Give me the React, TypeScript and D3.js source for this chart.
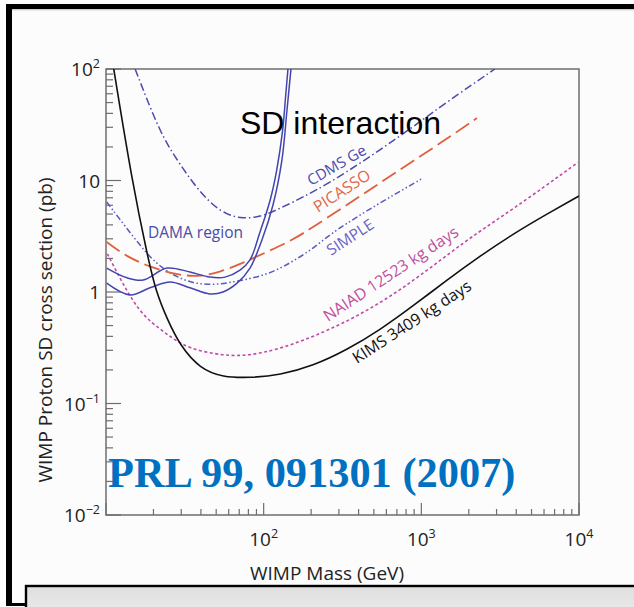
import React from 'react';
import * as d3 from 'd3';

// ---- data: [WIMP mass (GeV), SD cross section (pb)] ----
const KIMS: [number, number][] = [
  [11.2, 100], [14.6, 10], [18.5, 1.97], [20.8, 1.0], [24.4, 0.574], [29.5, 0.33],
  [39.5, 0.205], [55, 0.172], [82, 0.17], [127, 0.18], [205, 0.217], [337, 0.302],
  [546, 0.456], [885, 0.748], [1452, 1.28], [2354, 2.1], [3810, 3.31], [6250, 5.0], [10000, 7.26],
];
const NAIAD: [number, number][] = [
  [10.2, 2.2], [13.6, 1.0], [17.2, 0.61], [22, 0.467], [26.6, 0.38], [34.1, 0.31],
  [50.6, 0.275], [70.8, 0.265], [99, 0.285], [147, 0.33], [305, 0.497], [731, 1.0],
  [1945, 2.97], [3811, 5.5], [9840, 14.5],
];
const CDMS: [number, number][] = [
  [15.3, 100], [22, 26.7], [28.2, 15.3], [35.6, 9.5], [45.6, 6.28], [58.5, 4.91],
  [73.9, 4.55], [94.8, 4.71], [121, 5.44], [153, 6.4], [206, 7.88], [337, 11.9],
  [546, 18.8], [885, 30.2], [1452, 50.6], [2930, 100],
];
const PICASSO: [number, number][] = [
  [10.1, 2.81], [13.6, 2.06], [19, 1.68], [28.2, 1.42], [39.4, 1.37], [52.9, 1.51],
  [73.9, 1.82], [105, 2.29], [153, 2.93], [206, 3.83], [337, 6.03], [546, 9.5],
  [885, 14.96], [1452, 23.6], [2254, 36.4],
];
const SIMPLE: [number, number][] = [
  [10.1, 6.42], [17.2, 2.38], [22, 1.68], [28.2, 1.36], [35.6, 1.2], [45.6, 1.16],
  [58.5, 1.2], [73.9, 1.28], [94.8, 1.38], [121, 1.57], [153, 1.88], [206, 2.45],
  [263, 3.3], [427, 5.11], [700, 7.73], [1023, 10.5],
];
const DAMA_INNER: [number, number][] = [
  [10.1, 1.64], [13.6, 1.34], [17.2, 1.28], [24.4, 1.64], [34.1, 1.51], [45.6, 1.36],
  [56.9, 1.36], [70.8, 1.57], [81.9, 1.94], [94.8, 3.45], [110, 6.68], [121, 12.4],
  [132, 28.4], [138, 58.5], [142.6, 100],
];
const DAMA_OUTER: [number, number][] = [
  [10.1, 1.2], [14.2, 0.94], [19, 1.09], [25.5, 1.23], [34.1, 1.09], [45.6, 0.96],
  [55.2, 1.0], [67.8, 1.2], [81.9, 1.64], [97.5, 2.93], [114.6, 6.03], [130.6, 15.3],
  [140.6, 42.9], [149, 100],
];

const xTickValues = [100, 1000, 10000];
const xTickExps = ['2', '3', '4'];
const yTickValues = [100, 10, 1, 0.1, 0.01];
const yTickBases = ['10', '10', '1', '10', '10'];
const yTickExps = ['2', '', '', '-1', '-2'];

const TITLE = 'SD interaction';
const REF_TEXT = 'PRL 99, 091301 (2007)';
const X_LABEL = 'WIMP Mass (GeV)';
const Y_LABEL = 'WIMP Proton SD cross section (pb)';
const CURVE_LABELS = ['CDMS Ge', 'PICASSO', 'SIMPLE', 'NAIAD 12523 kg days', 'KIMS 3409 kg days', 'DAMA region'];

const W = 634;
const H = 607;
const L = 106, R = 579, T = 69, B = 515;

export default function App() {
  const x = d3.scaleLog().domain([10, 10000]).range([L, R]);
  const y = d3.scaleLog().domain([0.01, 100]).range([B, T]);
  const smooth = d3
    .line<[number, number]>()
    .x((d) => x(d[0]))
    .y((d) => y(d[1]))
    .curve(d3.curveBasis);
  const tight = d3
    .line<[number, number]>()
    .x((d) => x(d[0]))
    .y((d) => y(d[1]))
    .curve(d3.curveCatmullRom.alpha(0.5));

  const axisColor = '#6e6e6e';
  const font = "'Open Sans', 'Noto Sans', sans-serif";

  const yTicks: { v: number; major: boolean }[] = [];
  [0.01, 0.1, 1, 10].forEach((d) => {
    for (let k = 1; k <= 9; k++) yTicks.push({ v: d * k, major: k === 1 });
  });
  yTicks.push({ v: 100, major: true });
  const xTicks: { v: number; major: boolean }[] = [];
  [10, 100, 1000].forEach((d) => {
    for (let k = 1; k <= 9; k++) xTicks.push({ v: d * k, major: k === 1 });
  });
  xTicks.push({ v: 10000, major: true });

  const rot = (px: number, py: number, a: number) => `translate(${px},${py}) rotate(${a})`;

  return (
    <svg
      width={W}
      height={H}
      style={{ position: 'absolute', left: 0, top: 0 }}
      xmlns="http://www.w3.org/2000/svg"
    >
      <defs>
        <clipPath id="plot">
          <rect x={L} y={T} width={R - L} height={B - T} />
        </clipPath>
        <linearGradient id="gbox" x1="0" y1="0" x2="0" y2="1">
          <stop offset="0" stopColor="#dedede" />
          <stop offset="1" stopColor="#ececec" />
        </linearGradient>
      </defs>
      {/* slide frame */}
      <rect x={0} y={0} width={W} height={H} fill="#ffffff" />
      <rect x={10} y={9} width={W - 10} height={H - 9} fill="#fcfcfc" />
      <rect x={6} y={4} width={W - 6} height={5} fill="#000" />
      <line x1={12} x2={W} y1={9.8} y2={9.8} stroke="#bdbdbd" strokeWidth={1} />
      <rect x={6} y={4} width={6} height={602} fill="#000" />
      <rect x={6} y={603} width={21} height={3} fill="#000" />
      <rect x={26} y={586} width={W} height={30} fill="url(#gbox)" stroke="#000" strokeWidth={2.4} />

      {/* plot frame */}
      <rect x={L} y={T} width={R - L} height={B - T} fill="none" stroke={axisColor} strokeWidth={1.5} />
      {yTicks.map((t, i) => (
        <line
          key={'yt' + i}
          x1={L}
          x2={L + (t.major ? 15 : 7)}
          y1={y(t.v)}
          y2={y(t.v)}
          stroke={axisColor}
          strokeWidth={1.2}
        />
      ))}
      {xTicks.map((t, i) => (
        <line
          key={'xt' + i}
          x1={x(t.v)}
          x2={x(t.v)}
          y1={B}
          y2={B - (t.major ? 12 : 6)}
          stroke={axisColor}
          strokeWidth={1.2}
        />
      ))}

      {/* tick labels */}
      {yTickValues.map((v, i) => (
        <text
          key={'yl' + i}
          x={100}
          y={y(v) + 7}
          textAnchor="end"
          fontFamily={font}
          fontSize={19}
          fill="#222"
        >
          {yTickBases[i]}
          {yTickExps[i] && (
            <tspan fontSize={12.5} dy={-8}>
              {yTickExps[i].replace('-', '\u2212')}
            </tspan>
          )}
        </text>
      ))}
      {xTickValues.map((v, i) => (
        <text
          key={'xl' + i}
          x={x(v)}
          y={546}
          textAnchor="middle"
          fontFamily={font}
          fontSize={19}
          fill="#222"
        >
          10
          <tspan fontSize={12.5} dy={-8}>
            {xTickExps[i]}
          </tspan>
        </text>
      ))}

      {/* axis titles */}
      <text x={327} y={580} textAnchor="middle" fontFamily={font} fontSize={19} fill="#222">
        {X_LABEL}
      </text>
      <text
        transform={rot(52, 330, -90)}
        textAnchor="middle"
        fontFamily={font}
        fontSize={19}
        fill="#222"
      >
        {Y_LABEL}
      </text>

      {/* curves */}
      <g clipPath="url(#plot)" fill="none">
        <path d={smooth(CDMS) || ''} stroke="#4b4bab" strokeWidth={1.5} strokeDasharray="8,3,1.5,3" />
        <path d={smooth(SIMPLE) || ''} stroke="#5a5ac0" strokeWidth={1.5} strokeDasharray="6,2.5,1.5,2.5,1.5,2.5" />
        <path d={smooth(PICASSO) || ''} stroke="#e0603c" strokeWidth={1.8} strokeDasharray="16,6" />
        <path d={smooth(NAIAD) || ''} stroke="#c04aa8" strokeWidth={1.6} strokeDasharray="3,2.5" />
        <path d={tight(DAMA_INNER) || ''} stroke="#4444b0" strokeWidth={1.5} />
        <path d={tight(DAMA_OUTER) || ''} stroke="#4444b0" strokeWidth={1.5} />
        <path d={smooth(KIMS) || ''} stroke="#111" strokeWidth={1.6} />
      </g>

      {/* title */}
      <text x={240} y={134} fontFamily="'Liberation Sans', Arial, sans-serif" fontSize={32} fill="#000">
        {TITLE}
      </text>

      {/* curve labels */}
      <text transform={rot(311, 186, -30)} fontFamily={font} fontSize={15} fill="#4b4bb0">
        {CURVE_LABELS[0]}
      </text>
      <text transform={rot(318, 213, -33)} fontFamily={font} fontSize={16} fill="#e0684a">
        {CURVE_LABELS[1]}
      </text>
      <text transform={rot(331, 256, -33)} fontFamily={font} fontSize={15.5} fill="#6b62c4">
        {CURVE_LABELS[2]}
      </text>
      <text transform={rot(328, 322, -33.5)} fontFamily={font} fontSize={16} fill="#c0509e">
        {CURVE_LABELS[3]}
      </text>
      <text transform={rot(357, 364, -33)} fontFamily={font} fontSize={16} fill="#111">
        {CURVE_LABELS[4]}
      </text>
      <text x={148} y={238} fontFamily={font} fontSize={15.5} fill="#4a4aa8">
        {CURVE_LABELS[5]}
      </text>

      {/* reference */}
      <text
        x={108}
        y={487}
        fontFamily="'Liberation Serif', 'Times New Roman', serif"
        fontWeight="bold"
        fontSize={42.4}
        fill="#0070c0"
      >
        {REF_TEXT}
      </text>
    </svg>
  );
}
